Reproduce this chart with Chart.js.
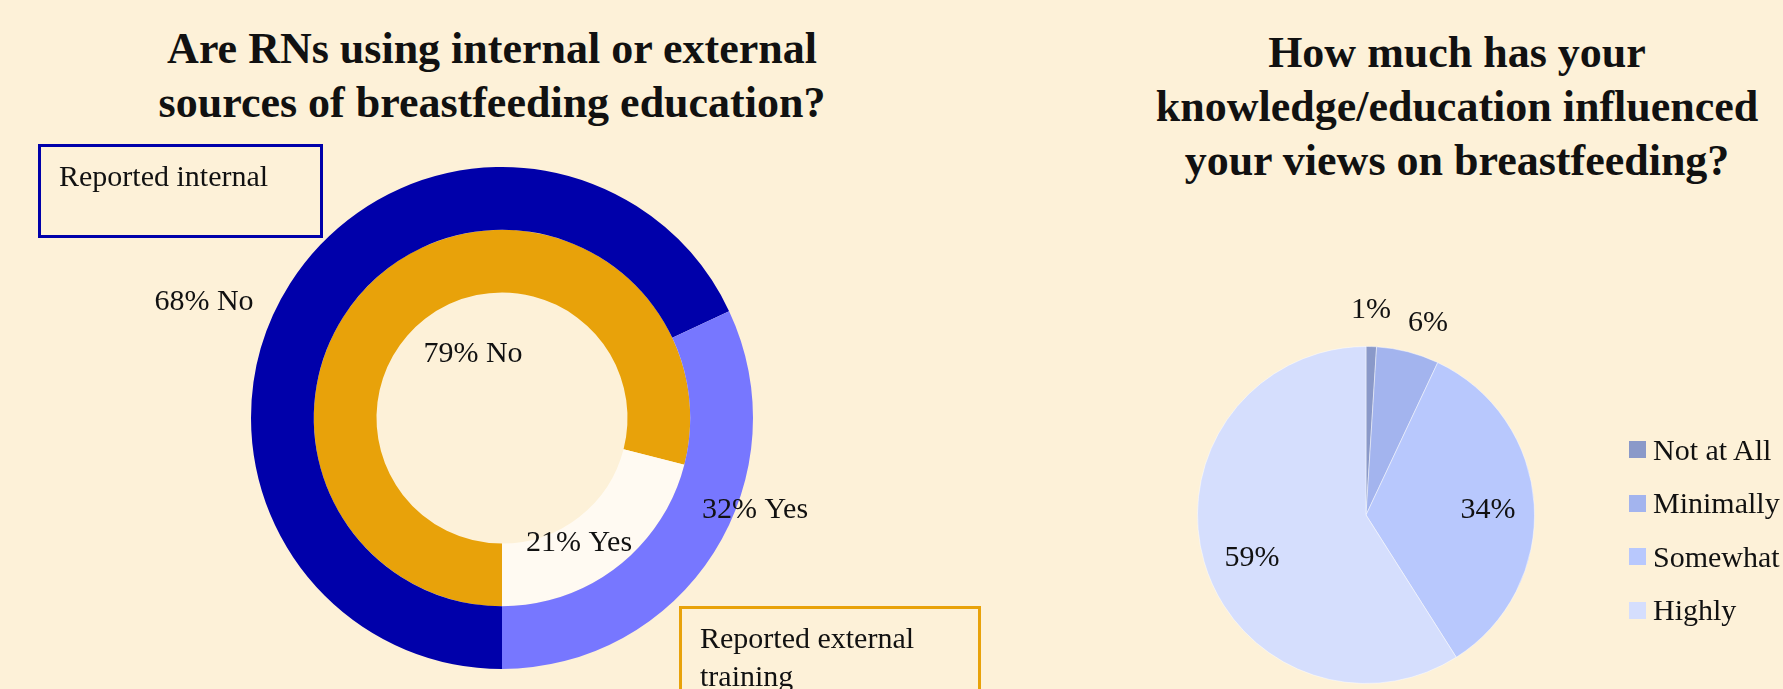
<!DOCTYPE html>
<html>
<head>
<meta charset="utf-8">
<script src="https://cdn.jsdelivr.net/npm/chart.js@4"></script>
<style>
  body { margin:0; width:1783px; height:689px; overflow:hidden; position:relative;
         background:#FDF1D8; font-family:"Liberation Serif", serif; color:#111; }
  .box { position:absolute; }
  .title { position:absolute; text-align:center; font-weight:bold; font-size:44px; white-space:nowrap; line-height:54px; }
  .note { position:absolute; box-sizing:border-box; border:3px solid; font-size:30px; line-height:38px; padding:10px 0 0 18px; }
  .legend { position:absolute; left:1629px; top:423px; font-size:30px; }
  .legend div { height:53.5px; display:flex; align-items:center; white-space:nowrap; }
  .legend span { display:inline-block; width:17px; height:17px; margin-right:7px; }
</style>
</head>
<body>
<div class="title" style="left:92px;width:800px;top:22px;">Are RNs using internal or external<br>sources of breastfeeding education?</div>
<div class="title" style="left:1057px;width:800px;top:26px;">How much has your<br>knowledge/education influenced<br>your views on breastfeeding?</div>

<div class="box" style="left:0;top:0;width:900px;height:689px;"><canvas id="sources"></canvas></div>
<div class="box" style="left:900px;top:0;width:883px;height:689px;"><canvas id="influence"></canvas></div>

<div class="note" style="left:38px;top:144px;width:285px;height:94px;border-color:#0000AA;">Reported internal</div>
<div class="note" style="left:679px;top:606px;width:302px;height:100px;border-color:#E8A20A;">Reported external<br>training</div>
<div class="legend" id="legend"></div>

<script>
// left chart: internal (outer ring) and external (inner ring) sources
const answers = ['No', 'Yes'];
const internalPct = [68, 32];
const externalPct = [79, 21];

// right chart
const influenceLevels = ['Not at All', 'Minimally', 'Somewhat', 'Highly'];
const influencePct = [1, 6, 34, 59];
const influenceColors = ['#8A99C9', '#A3B4EE', '#B8C8FD', '#D5DEFD'];

// draws the percentage labels around the chart centre
const pctLabels = {
  id: 'pctLabels',
  afterDatasetsDraw(chart, args, opts) {
    const arc = chart.getDatasetMeta(0).data[0];
    const ctx = chart.ctx;
    ctx.save();
    ctx.font = '30px "Liberation Serif"';
    ctx.fillStyle = '#111';
    ctx.textAlign = 'center';
    ctx.textBaseline = 'middle';
    opts.items.forEach(function (it) {
      ctx.fillText(it.text, arc.x + it.dx, arc.y + it.dy);
    });
    ctx.restore();
  }
};

new Chart(document.getElementById('sources'), {
  type: 'doughnut',
  data: {
    labels: answers,
    datasets: [
      { label: 'Internal', data: internalPct, backgroundColor: ['#0000AA', '#7777FF'], borderWidth: 0 },
      { label: 'External', data: externalPct, backgroundColor: ['#E8A20A', '#FFFAF2'], borderWidth: 0 }
    ]
  },
  options: {
    responsive: true,
    maintainAspectRatio: false,
    animation: false,
    rotation: 180,
    cutout: '50%',
    layout: { padding: { left: 251, right: 147, top: 167, bottom: 20 } },
    plugins: {
      legend: { display: false },
      tooltip: { enabled: false },
      pctLabels: {
        items: [
          { text: internalPct[0] + '% ' + answers[0], dx: -298, dy: -116 },
          { text: internalPct[1] + '% ' + answers[1], dx: 253, dy: 92 },
          { text: externalPct[0] + '% ' + answers[0], dx: -29, dy: -64 },
          { text: externalPct[1] + '% ' + answers[1], dx: 77, dy: 125 }
        ]
      }
    }
  },
  plugins: [pctLabels]
});

new Chart(document.getElementById('influence'), {
  type: 'pie',
  data: {
    labels: influenceLevels,
    datasets: [{ data: influencePct, backgroundColor: influenceColors, borderWidth: 1, borderColor: 'rgba(255,255,255,0.45)' }]
  },
  options: {
    responsive: true,
    maintainAspectRatio: false,
    animation: false,
    layout: { padding: { left: 297, right: 248, top: 346, bottom: 5 } },
    plugins: {
      legend: { display: false },
      tooltip: { enabled: false },
      pctLabels: {
        items: [
          { text: influencePct[0] + '%', dx: 5, dy: -205 },
          { text: influencePct[1] + '%', dx: 62, dy: -192 },
          { text: influencePct[2] + '%', dx: 122, dy: -5 },
          { text: influencePct[3] + '%', dx: -114, dy: 43 }
        ]
      }
    }
  },
  plugins: [pctLabels]
});

const legend = document.getElementById('legend');
influenceLevels.forEach(function (name, i) {
  const row = document.createElement('div');
  row.innerHTML = '<span style="background:' + influenceColors[i] + '"></span>' + name;
  legend.appendChild(row);
});
</script>
</body>
</html>
